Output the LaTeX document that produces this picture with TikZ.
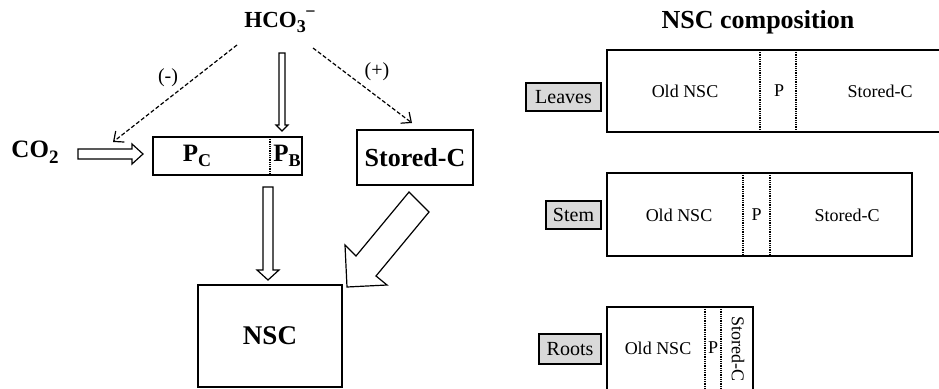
\documentclass[tikz,border=0pt]{standalone}
\usepackage{fontspec}
\setmainfont{Liberation Serif}
\usetikzlibrary{arrows.meta}
\newcommand{\lowsub}[3]{\raisebox{-#2pt}{\fontsize{#1}{#1}\selectfont #3}}
\begin{document}
\begin{tikzpicture}[x=1pt,y=-1pt,
  box/.style={draw, line width=1.5pt, inner sep=0pt, outer sep=0pt},
  lbl/.style={draw, line width=1.4pt, fill=gray!30, inner sep=0pt, outer sep=0pt, font=\fontsize{20}{22}\selectfont},
  divider/.style={line width=1.2pt, dash pattern=on 1pt off 0.8pt},
  small/.style={font=\fontsize{18}{20}\selectfont, inner sep=0pt},
  dasharr/.style={line width=1.2pt, dash pattern=on 4pt off 2.2pt, -{Straight Barb[length=8pt,width=14pt,line width=1.2pt]}},
  blockarr/.style={draw, line width=1.2pt, fill=white, line join=miter},
  bold/.style={font=\fontsize{#1}{#1}\selectfont\bfseries, inner sep=0pt}
]
\useasboundingbox (0,0) rectangle (939,388);

% ---------- left part ----------
\node[bold=23] (hco) at (280,22) {HCO\lowsub{18}{5}{3}\kern-0.5pt\raisebox{10pt}{\fontsize{18}{18}\selectfont\char"2212}};
\node[bold=25] (co2) at (35,152) {CO\lowsub{19}{6}{2}};

\node[box, minimum width=149pt, minimum height=38pt] (pbox) at (227.5,156) {};
\draw[divider] (270,137) -- (270,175);
\node[bold=25] (pc) at (197,156) {P\lowsub{18}{5}{C}};
\node[bold=25] (pb) at (287,156) {P\lowsub{18}{5}{B}};

\node[box, minimum width=116pt, minimum height=55pt, font=\fontsize{26}{26}\selectfont\bfseries] (stored) at (415,157.5) {Stored-C};

\node[box, minimum width=144pt, minimum height=102pt, font=\fontsize{27}{27}\selectfont\bfseries] (nsc) at (270,336) {NSC};

% dashed arrows
\coordinate (dl0) at (237,45);
\coordinate (dl1) at (113,142);
\coordinate (dr0) at (313,48);
\coordinate (dr1) at (412,123);
\draw[dasharr] (dl0) -- (dl1);
\draw[dasharr] (dr0) -- (dr1);
\node[small, font=\fontsize{20}{20}\selectfont] (minus) at (168,78) {(-)};
\node[small, font=\fontsize{20}{20}\selectfont] (plus) at (377,72) {(+)};

% block arrows
\path[blockarr] (279,53) -- (285,53) -- (285,125) -- (288,125) -- (282,131) -- (276,125) -- (279,125) -- cycle;
\path[blockarr] (78,149) -- (132,149) -- (132,144) -- (143,154) -- (132,164) -- (132,159) -- (78,159) -- cycle;
\path[blockarr] (263,187) -- (273,187) -- (273,270) -- (279,270) -- (268,280) -- (257,270) -- (263,270) -- cycle;
\path[blockarr] (409,192) -- (429,212) -- (376,276) -- (387,285) -- (347,287) -- (345,245) -- (356,256) -- cycle;

% ---------- right part ----------
\node[bold=26] (title) at (758,22) {NSC composition};

% Leaves
\node[box, minimum width=334pt, minimum height=82pt] (leaves) at (774,91) {};
\draw[divider] (760,50) -- (760,132);
\draw[divider] (796,50) -- (796,132);
\node[small] (l1) at (685,91) {Old NSC};
\node[small] (l2) at (779,91) {P};
\node[small] (l3) at (880,91) {Stored-C};
\node[lbl, minimum width=75pt, minimum height=28pt] (leaveslbl) at (563.5,97) {Leaves};

% Stem
\node[box, minimum width=305pt, minimum height=83pt] (stem) at (759.5,214.5) {};
\draw[divider] (743,173) -- (743,256);
\draw[divider] (770,173) -- (770,256);
\node[small] (s1) at (679,215) {Old NSC};
\node[small] (s2) at (756.5,215) {P};
\node[small] (s3) at (847,215) {Stored-C};
\node[lbl, minimum width=55pt, minimum height=28pt] (stemlbl) at (573.5,215) {Stem};

% Roots
\node[box, minimum width=146pt, minimum height=86pt] (roots) at (680,350) {};
\draw[divider] (705,307) -- (705,393);
\draw[divider] (721,307) -- (721,393);
\node[small] (r1) at (658,348) {Old NSC};
\node[small] (r2) at (713,348) {P};
\node[small, rotate=-90] (r3) at (738,349) {Stored-C};
\node[lbl, minimum width=62pt, minimum height=30pt] (rootslbl) at (570,349) {Roots};
\end{tikzpicture}
\end{document}
